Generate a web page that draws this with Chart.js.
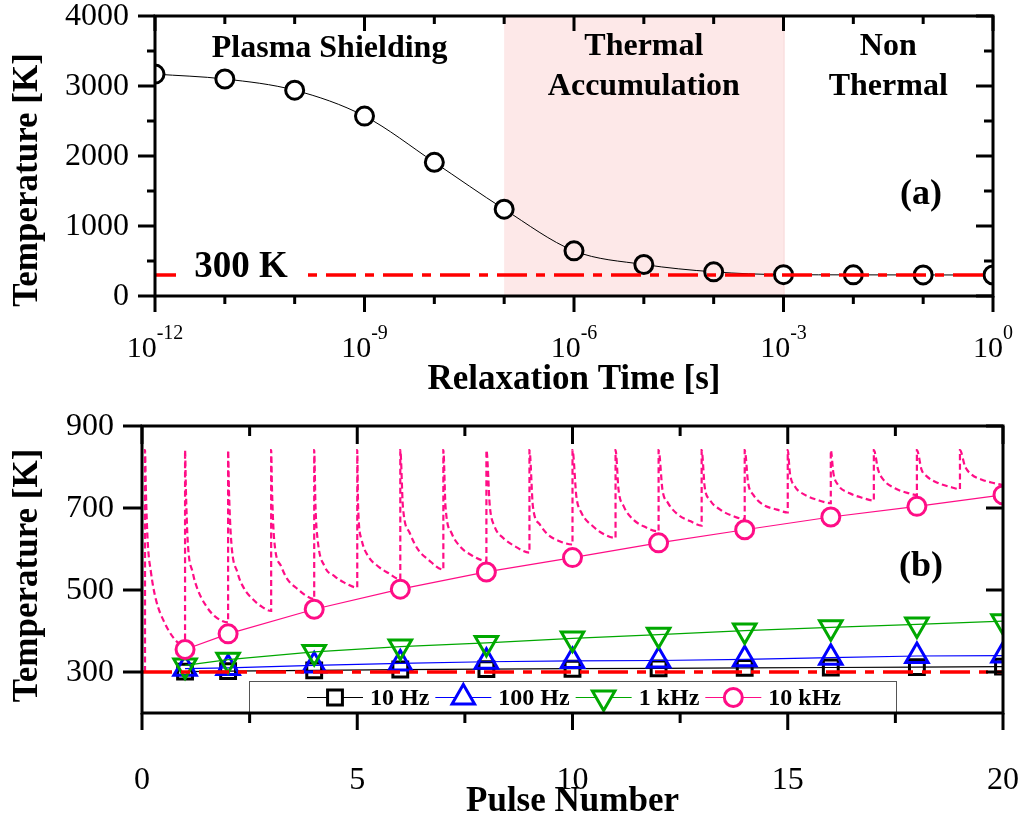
<!DOCTYPE html>
<html>
<head>
<meta charset="utf-8">
<title>Temperature vs relaxation time and pulse number</title>
<script src="https://cdn.jsdelivr.net/npm/chart.js@4.4.1/dist/chart.umd.min.js"></script>
<style>
  html, body { margin: 0; padding: 0; background: #fff; }
  #wrap { position: relative; width: 1022px; height: 816px; overflow: hidden; }
  canvas { position: absolute; left: 0; display: block; }
  #chartA { top: 0; }
  #chartB { top: 400px; }
</style>
</head>
<body>
<div id="wrap">
  <canvas id="chartA" width="1022" height="400"></canvas>
  <canvas id="chartB" width="1022" height="416"></canvas>
</div>
<script>
// ---------- (a) peak temperature against relaxation time ----------
const relaxTimes = [1e-12, 1e-11, 1e-10, 1e-9, 1e-8, 1e-7, 1e-6, 1e-5, 1e-4, 1e-3, 1e-2, 1e-1, 1];
const peakTemps  = [3170, 3100, 2940, 2570, 1910, 1240, 645, 450, 345, 305, 302, 301, 300];
const regionBounds = [1e-12, 1e-7, 1e-3, 1];
const regionNames  = ['Plasma Shielding', 'Thermal\nAccumulation', 'Non\nThermal'];
const logLabelExponents = [-12, -9, -6, -3, 0];
const ambientK = 300;

// ---------- (b) temperature against pulse number ----------
const pulseNumbers = [1, 2, 4, 6, 8, 10, 12, 14, 16, 18, 20];
const temp10Hz  = [301, 302, 304, 306, 307, 308, 309, 310, 311, 312, 313];
const temp100Hz = [308, 310, 316, 321, 325, 327, 328, 331, 335, 339, 340];
const temp1kHz  = [316, 330, 349, 362, 371, 382, 391, 401, 409, 416, 424];
const temp10kHz = [355, 393, 453, 502, 544, 579, 615, 647, 678, 704, 732];
const seriesLabels = ['10 Hz', '100 Hz', '1 kHz', '10 kHz'];
const pulseLabelTicks = [0, 5, 10, 15, 20];
const tempLabelTicks  = [300, 500, 700, 900];

// 10 kHz transient: heating spike at each pulse, then cooling until the next one
const transientX = [
  0.07, 0.07, 0.09, 0.13, 0.21, 0.32, 0.52, 0.75, 1.00,
  1.00, 1.02, 1.06, 1.18, 1.29, 1.49, 1.68, 2.00,
  2.00, 2.02, 2.07, 2.22, 2.38, 2.57, 2.76, 3.00,
  3.00, 3.02, 3.07, 3.23, 3.38, 3.62, 3.81, 4.00,
  4.00, 4.03, 4.08, 4.24, 4.47, 4.70, 5.00,
  5.00, 5.02, 5.10, 5.25, 5.48, 5.71, 6.00,
  6.00, 6.06, 6.22, 6.41, 6.64, 7.00,
  7.00, 7.05, 7.19, 7.38, 7.62, 8.00,
  8.00, 8.08, 8.19, 8.39, 8.66, 9.00,
  9.00, 9.08, 9.24, 9.43, 9.70, 10.00,
  10.00, 10.09, 10.21, 10.48, 10.75, 11.00,
  11.00, 11.07, 11.19, 11.41, 11.68, 12.00,
  12.00, 12.09, 12.22, 12.45, 12.73, 13.00,
  13.00, 13.07, 13.19, 13.43, 13.74, 14.00,
  14.00, 14.08, 14.20, 14.43, 14.75, 15.00,
  15.00, 15.05, 15.17, 15.40, 15.68, 16.00,
  16.00, 16.06, 16.17, 16.44, 16.76, 17.00,
  17.00, 17.10, 17.22, 17.49, 17.81, 18.00,
  18.00, 18.11, 18.23, 18.49, 18.82, 19.00,
  19.00, 19.12, 19.28, 19.51, 19.78, 20.00
];
const transientK = [
  300, 841, 744, 623, 542, 478, 421, 381, 361,
  841, 744, 623, 542, 502, 461, 437, 421,
  841, 744, 623, 542, 502, 478, 461, 449,
  841, 744, 623, 558, 526, 502, 486, 478,
  841, 704, 623, 558, 534, 518, 506,
  841, 704, 623, 583, 558, 542, 526,
  841, 704, 639, 599, 575, 550,
  841, 704, 639, 607, 587, 571,
  841, 704, 655, 627, 607, 591,
  841, 704, 660, 635, 619, 611,
  841, 728, 688, 655, 635, 627,
  841, 744, 704, 672, 654, 643,
  841, 744, 712, 684, 668, 657,
  841, 752, 720, 696, 680, 673,
  841, 761, 732, 708, 696, 689,
  841, 785, 752, 732, 720, 712,
  841, 785, 756, 736, 724, 718,
  841, 793, 769, 748, 736, 732,
  841, 793, 777, 761, 750, 746,
  841, 801, 781, 769, 761, 756
];

// ---------- styling ----------
const SERIF = '"Liberation Serif", "DejaVu Serif", serif';
const PINK = '#ff0d86', GREEN = '#00a800', BLUE = '#0000ff', RED = '#ff0000';
const SHADE = '#fde8e8';
const AMBIENT_DASH = [30, 9, 9, 9];
const AXIS_W = 3;

function seg(ctx, x1, y1, x2, y2) {
  ctx.beginPath(); ctx.moveTo(x1, y1); ctx.lineTo(x2, y2); ctx.stroke();
}
function xy(xs, ys) { return xs.map((v, i) => ({ x: v, y: ys[i] })); }

// boxed frame: ticks outward on left/bottom, inward on top/right
function drawFrame(chart, xTicks, yTicks) {
  const { ctx, chartArea: a, scales } = chart;
  const h = AXIS_W / 2;
  ctx.save();
  ctx.setLineDash([]);
  ctx.fillStyle = '#000';
  xTicks.forEach(t => {
    const p = scales.x.getPixelForValue(t.v);
    ctx.fillRect(p - h, a.bottom, AXIS_W, t.out);
    ctx.fillRect(p - h, a.top, AXIS_W, t.inn);
  });
  yTicks.forEach(t => {
    const p = scales.y.getPixelForValue(t.v);
    ctx.fillRect(a.left - t.out, p - h, t.out, AXIS_W);
    ctx.fillRect(a.right - t.inn, p - h, t.inn, AXIS_W);
  });
  ctx.strokeStyle = '#000';
  ctx.lineWidth = AXIS_W;
  ctx.strokeRect(a.left, a.top, a.right - a.left, a.bottom - a.top);
  ctx.restore();
}

function drawVerticalTitle(ctx, text, x, y) {
  ctx.save();
  ctx.translate(x, y);
  ctx.rotate(-Math.PI / 2);
  ctx.font = 'bold 35px ' + SERIF;
  ctx.textAlign = 'center';
  ctx.textBaseline = 'alphabetic';
  ctx.fillStyle = '#000';
  ctx.fillText(text, 0, 0);
  ctx.restore();
}

// ---------- chart (a) ----------
const plotA = {
  id: 'plotA',
  beforeDatasetsDraw(chart) {
    const { ctx, chartArea: a, scales: { x } } = chart;
    const x0 = x.getPixelForValue(regionBounds[1]);
    const x1 = x.getPixelForValue(regionBounds[2]);
    ctx.save();
    ctx.fillStyle = SHADE;
    ctx.fillRect(x0, a.top, x1 - x0, a.bottom - a.top);
    ctx.strokeStyle = '#f7cfcf';
    ctx.lineWidth = 1;
    seg(ctx, x1 + 0.5, a.top, x1 + 0.5, a.bottom);
    ctx.restore();
  },
  afterDatasetsDraw(chart) {
    const { ctx, scales: { y } } = chart;
    const py = y.getPixelForValue(ambientK);
    ctx.save();
    ctx.fillStyle = '#fff';
    ctx.fillRect(176, py - 12, 129, 24);
    ctx.fillStyle = '#000';
    ctx.font = 'bold 37px ' + SERIF;
    ctx.textAlign = 'center';
    ctx.textBaseline = 'alphabetic';
    ctx.fillText(ambientK + ' K', 241, py + 2);
    ctx.restore();
  },
  afterDraw(chart) {
    const { ctx, chartArea: a, scales: { x, y } } = chart;
    ctx.save();
    ctx.fillStyle = '#000';
    // y tick labels
    ctx.font = '32px ' + SERIF;
    ctx.textAlign = 'right';
    ctx.textBaseline = 'middle';
    for (let v = 0; v <= 4000; v += 1000) {
      ctx.fillText(String(v), a.left - 26, y.getPixelForValue(v) + 1);
    }
    // x tick labels as powers of ten
    ctx.textBaseline = 'alphabetic';
    ctx.textAlign = 'left';
    logLabelExponents.forEach(e => {
      const px = x.getPixelForValue(Math.pow(10, e));
      ctx.font = '30px ' + SERIF;
      const wBase = ctx.measureText('10').width;
      ctx.font = '20px ' + SERIF;
      const wExp = ctx.measureText(String(e)).width;
      const left = px - (wBase + wExp) / 2;
      ctx.font = '30px ' + SERIF;
      ctx.fillText('10', left, 357);
      ctx.font = '20px ' + SERIF;
      ctx.fillText(String(e), left + wBase, 339);
    });
    // axis titles
    ctx.font = 'bold 35px ' + SERIF;
    ctx.textAlign = 'center';
    ctx.fillText('Relaxation Time [s]', (a.left + a.right) / 2, 389);
    drawVerticalTitle(ctx, 'Temperature [K]', 37, (a.top + a.bottom) / 2 + 24);

    // regime names, centred on each span
    ctx.font = 'bold 32px ' + SERIF;
    ctx.textAlign = 'center';
    regionNames.forEach((name, i) => {
      const cx = (x.getPixelForValue(regionBounds[i]) + x.getPixelForValue(regionBounds[i + 1])) / 2;
      const lines = name.split('\n');
      lines.forEach((ln, k) => {
        ctx.fillText(ln, cx, (lines.length === 1 ? 57 : 55) + k * 40);
      });
    });
    ctx.font = 'bold 36px ' + SERIF;
    ctx.fillText('(a)', 921, 204);
    ctx.restore();

    const xTicks = [];
    for (let e = -12; e <= 0; e++) {
      const major = e % 3 === 0;
      xTicks.push({ v: Math.pow(10, e), out: major ? 16 : 8, inn: major ? 15 : 8 });
    }
    const yTicks = [];
    for (let v = 0; v <= 4000; v += 500) {
      const major = v % 1000 === 0;
      yTicks.push({ v, out: major ? 17 : 8, inn: major ? 17 : 9 });
    }
    drawFrame(chart, xTicks, yTicks);
  }
};

const chartA = new Chart(document.getElementById('chartA'), {
  type: 'line',
  data: {
    datasets: [
      {
        label: ambientK + ' K',
        data: [{ x: regionBounds[0], y: ambientK }, { x: regionBounds[3], y: ambientK }],
        borderColor: RED,
        borderWidth: 3.5,
        borderDash: AMBIENT_DASH,
        pointRadius: 0,
        order: 0,
        clip: 0
      },
      {
        label: 'Peak temperature',
        data: xy(relaxTimes, peakTemps),
        borderColor: '#000',
        borderWidth: 1,
        cubicInterpolationMode: 'monotone',
        pointStyle: 'circle',
        pointRadius: 9,
        pointBorderWidth: 3,
        pointBorderColor: '#000',
        pointBackgroundColor: c => {
          const t = c.raw ? c.raw.x : 0;
          return (t > regionBounds[1] && t < regionBounds[2]) ? SHADE : '#fff';
        },
        order: 1,
        clip: 0
      }
    ]
  },
  options: {
    responsive: false,
    animation: false,
    events: [],
    devicePixelRatio: 1,
    layout: { padding: { top: 16, right: 29, left: 0, bottom: 0 } },
    plugins: { legend: { display: false }, tooltip: { enabled: false } },
    scales: {
      x: {
        type: 'logarithmic', min: regionBounds[0], max: regionBounds[3],
        grid: { display: false }, border: { display: false }, ticks: { display: false },
        afterFit: s => { s.height = 104; }
      },
      y: {
        type: 'linear', min: 0, max: 4000,
        grid: { display: false }, border: { display: false }, ticks: { display: false },
        afterFit: s => { s.width = 155; }
      }
    }
  },
  plugins: [plotA]
});

// ---------- chart (b) ----------
const seriesStyles = [
  { color: '#000', style: 'rect', rotation: 0, radius: 10.5, fill: 'rgba(0,0,0,0)' },
  { color: BLUE, style: 'triangle', rotation: 0, radius: 13, fill: 'rgba(0,0,0,0)' },
  { color: GREEN, style: 'triangle', rotation: 180, radius: 13, fill: 'rgba(0,0,0,0)' },
  { color: PINK, style: 'circle', rotation: 0, radius: 9, fill: '#fff' }
];

function markerPath(ctx, st, x, y) {
  ctx.beginPath();
  if (st.style === 'circle') {
    ctx.arc(x, y, st.radius, 0, Math.PI * 2);
  } else if (st.style === 'rect') {
    const s = Math.SQRT1_2 * st.radius;
    ctx.rect(x - s, y - s, 2 * s, 2 * s);
  } else {
    let rad = st.rotation * Math.PI / 180;
    for (let k = 0; k < 3; k++) {
      const px = x + Math.sin(rad) * st.radius, py = y - Math.cos(rad) * st.radius;
      if (k === 0) ctx.moveTo(px, py); else ctx.lineTo(px, py);
      rad += 2 * Math.PI / 3;
    }
    ctx.closePath();
  }
}

const plotB = {
  id: 'plotB',
  afterDraw(chart) {
    const { ctx, chartArea: a, scales: { x, y } } = chart;

    // legend box sitting on the bottom of the plot
    ctx.save();
    const boxL = 249, boxR = 896, boxT = a.bottom - 32;
    ctx.fillStyle = '#fff';
    ctx.fillRect(boxL, boxT, boxR - boxL, a.bottom - boxT);
    ctx.strokeStyle = '#555';
    ctx.lineWidth = 1;
    ctx.strokeRect(boxL + 0.5, boxT + 0.5, boxR - boxL, a.bottom - boxT);
    const cy = boxT + 16.5;
    let cx = 307;
    ctx.font = 'bold 24px ' + SERIF;
    ctx.textBaseline = 'middle';
    ctx.textAlign = 'left';
    seriesLabels.forEach((lab, i) => {
      const st = seriesStyles[i];
      ctx.strokeStyle = st.color;
      ctx.lineWidth = 1.2;
      seg(ctx, cx, cy, cx + 56, cy);
      ctx.fillStyle = '#fff';
      ctx.lineWidth = 3;
      markerPath(ctx, st, cx + 28, cy);
      ctx.fill();
      ctx.stroke();
      ctx.fillStyle = '#000';
      ctx.fillText(lab, cx + 63, cy + 1);
      cx += 63 + ctx.measureText(lab).width + 6;
    });
    ctx.restore();

    ctx.save();
    ctx.fillStyle = '#000';
    ctx.font = '32px ' + SERIF;
    ctx.textAlign = 'right';
    ctx.textBaseline = 'middle';
    tempLabelTicks.forEach(v => ctx.fillText(String(v), a.left - 28, y.getPixelForValue(v) + 1));
    ctx.textAlign = 'center';
    ctx.textBaseline = 'alphabetic';
    pulseLabelTicks.forEach(v => ctx.fillText(String(v), x.getPixelForValue(v), 389));
    ctx.font = 'bold 35px ' + SERIF;
    ctx.fillText('Pulse Number', (a.left + a.right) / 2, 411);
    drawVerticalTitle(ctx, 'Temperature [K]', 37, (a.top + a.bottom) / 2 + 6);
    ctx.font = 'bold 36px ' + SERIF;
    ctx.fillText('(b)', 921, 176);
    ctx.restore();

    const xTicks = [];
    for (let v = 0; v <= 20; v += 2.5) {
      const major = v % 5 === 0;
      xTicks.push({ v, out: major ? 17 : 10, inn: major ? 18 : 10 });
    }
    const yTicks = tempLabelTicks.map(v => ({ v, out: 19, inn: 17 }));
    drawFrame(chart, xTicks, yTicks);
  }
};

function seriesDataset(i, values, order) {
  const st = seriesStyles[i];
  return {
    label: seriesLabels[i],
    data: xy(pulseNumbers, values),
    borderColor: st.color,
    borderWidth: 1.2,
    pointStyle: st.style,
    rotation: st.rotation,
    pointRadius: st.radius,
    pointBorderWidth: 3,
    pointBorderColor: st.color,
    pointBackgroundColor: st.fill,
    tension: 0,
    order,
    clip: 0
  };
}

const chartB = new Chart(document.getElementById('chartB'), {
  type: 'line',
  data: {
    datasets: [
      {
        label: ambientK + ' K',
        data: [{ x: 0, y: ambientK }, { x: 20, y: ambientK }],
        borderColor: RED,
        borderWidth: 3.5,
        borderDash: AMBIENT_DASH,
        pointRadius: 0,
        order: 0,
        clip: 0
      },
      seriesDataset(3, temp10kHz, 1),
      {
        label: '10 kHz transient',
        data: xy(transientX, transientK),
        borderColor: PINK,
        borderWidth: 2.2,
        borderDash: [6, 3.5],
        cubicInterpolationMode: 'monotone',
        pointRadius: 0,
        order: 2,
        clip: 0
      },
      seriesDataset(2, temp1kHz, 3),
      seriesDataset(1, temp100Hz, 4),
      seriesDataset(0, temp10Hz, 5)
    ]
  },
  options: {
    responsive: false,
    animation: false,
    events: [],
    devicePixelRatio: 1,
    layout: { padding: { top: 26, right: 19, left: 0, bottom: 0 } },
    plugins: { legend: { display: false }, tooltip: { enabled: false } },
    scales: {
      x: {
        type: 'linear', min: 0, max: 20,
        grid: { display: false }, border: { display: false }, ticks: { display: false },
        afterFit: s => { s.height = 103; }
      },
      y: {
        type: 'linear', min: 200, max: 900,
        grid: { display: false }, border: { display: false }, ticks: { display: false },
        afterFit: s => { s.width = 142; }
      }
    }
  },
  plugins: [plotB]
});
</script>
</body>
</html>
